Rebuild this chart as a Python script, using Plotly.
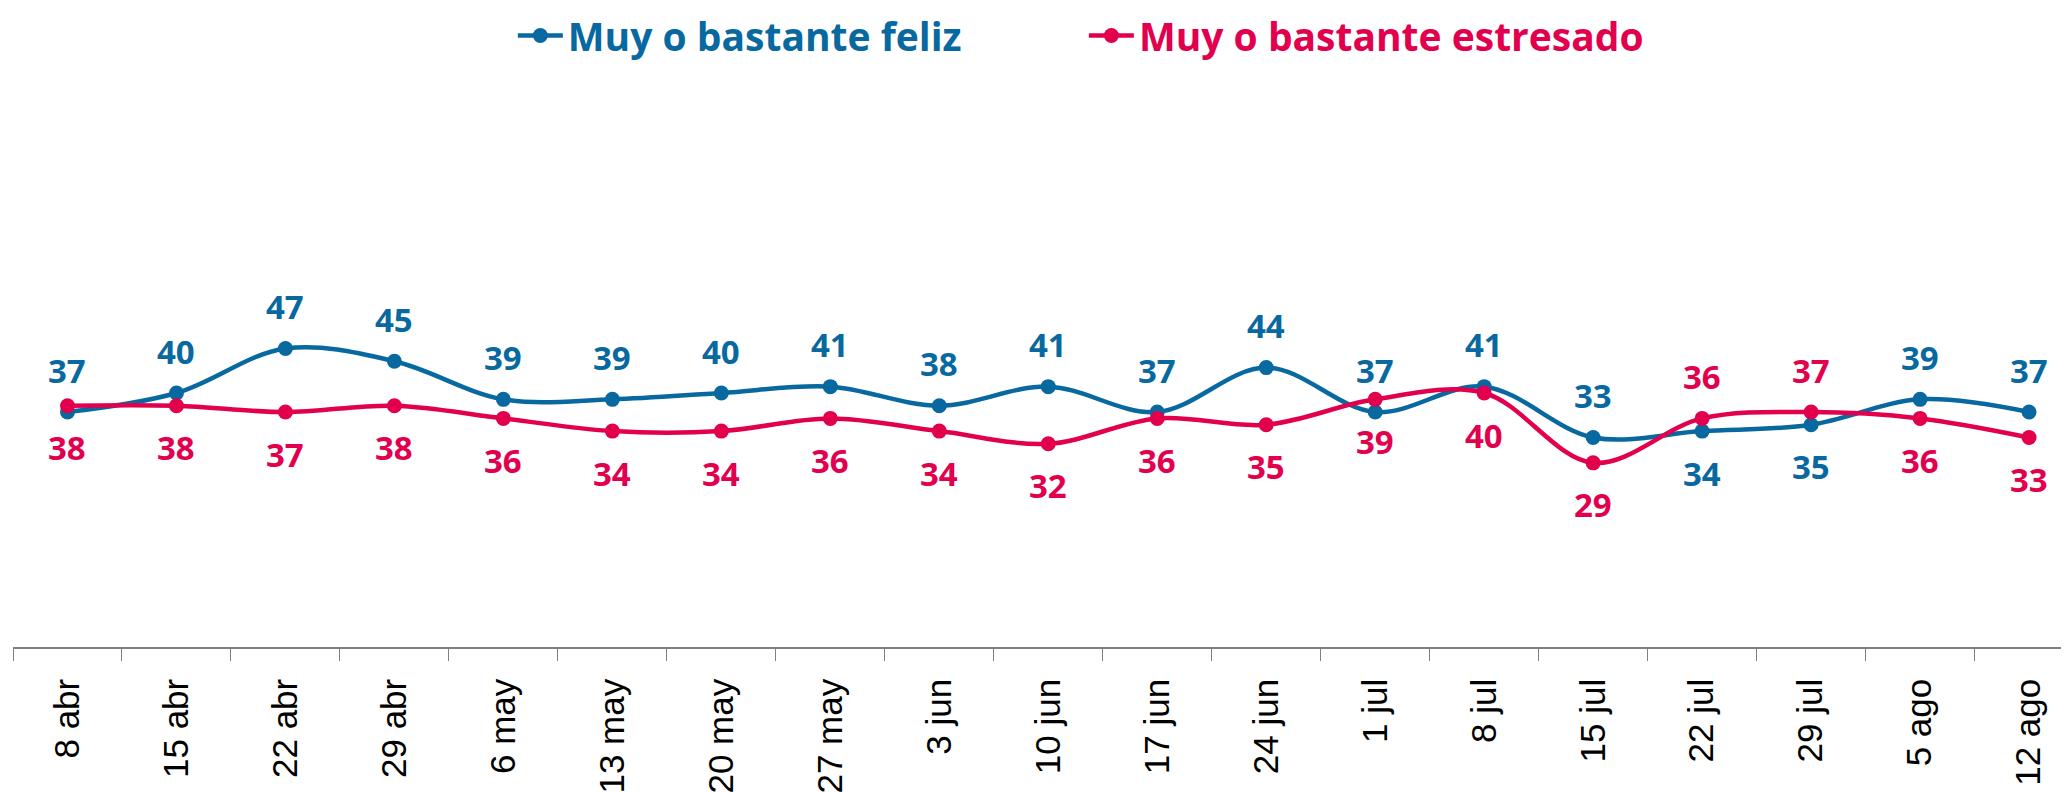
import plotly.graph_objects as go

# semanas
fechas = ["8 abr", "15 abr", "22 abr", "29 abr", "6 may", "13 may", "20 may", "27 may",
          "3 jun", "10 jun", "17 jun", "24 jun", "1 jul", "8 jul", "15 jul", "22 jul",
          "29 jul", "5 ago", "12 ago"]

feliz = [37, 40, 47, 45, 39, 39, 40, 41, 38, 41, 37, 44, 37, 41, 33, 34, 35, 39, 37]
estresado = [38, 38, 37, 38, 36, 34, 34, 36, 34, 32, 36, 35, 39, 40, 29, 36, 37, 36, 33]

# etiqueta arriba (1) o abajo (-1)
pos_feliz = [1] * 15 + [-1, -1, 1, 1]
pos_estresado = [-1] * 15 + [1, 1, -1, -1]

AZUL = "#0868A0"
ROJO = "#E2004E"
FUENTE_DATOS = "Open Sans"

series = [
    ("Muy o bastante feliz", feliz, pos_feliz, AZUL, "legend"),
    ("Muy o bastante estresado", estresado, pos_estresado, ROJO, "legend2"),
]

fig = go.Figure()

for nombre, valores, _, color, leyenda in series:
    fig.add_trace(go.Scatter(
        x=fechas, y=valores, name=nombre, legend=leyenda,
        mode="lines+markers",
        line=dict(color=color, width=4.5, shape="spline", smoothing=1),
        marker=dict(color=color, size=15),
        hoverinfo="skip",
    ))

# etiquetas de datos
for _, valores, posiciones, color, _ in series:
    for f, v, p in zip(fechas, valores, posiciones):
        fig.add_annotation(
            x=f, y=v, text=str(v), showarrow=False,
            yshift=42 * p,
            font=dict(family=FUENTE_DATOS, size=33, color=color, weight="bold"),
        )


def leyenda(x, color):
    return dict(
        orientation="h", xref="container", yref="container",
        x=x, xanchor="left", y=0.965, yanchor="middle",
        font=dict(family=FUENTE_DATOS, size=39, color=color, weight="bold"),
        itemwidth=45, bgcolor="rgba(0,0,0,0)",
    )


# la página añade 8 px de margen al cuerpo: se compensa en los márgenes
fig.update_layout(
    width=2069, height=792,
    plot_bgcolor="white", paper_bgcolor="white",
    margin=dict(l=5, r=0, t=4, b=153, autoexpand=False),
    showlegend=True,
    legend=leyenda(0.244, AZUL),
    legend2=leyenda(0.52, ROJO),
    xaxis=dict(
        type="category", range=[-0.5, 18.44], automargin=False,
        tickson="boundaries", ticks="outside", ticklen=12, tickcolor="#808080",
        showline=True, linecolor="#808080", linewidth=1.5,
        showgrid=False, tickangle=-90, ticklabelstandoff=16,
        tickfont=dict(family="Liberation Sans", size=35, color="black"),
    ),
    yaxis=dict(range=[0, 100], visible=False, showgrid=False, automargin=False),
)

fig.write_html("out.html")
